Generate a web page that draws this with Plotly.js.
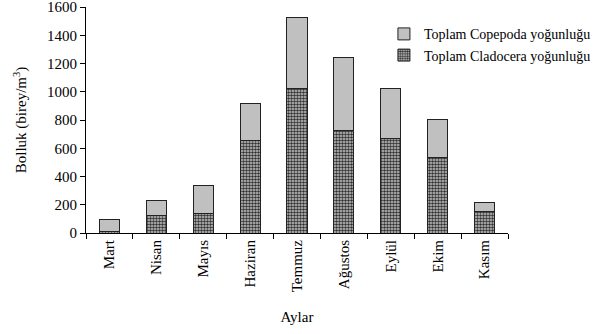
<!DOCTYPE html>
<html><head><meta charset="utf-8">
<script src="https://cdn.plot.ly/plotly-3.0.1.min.js"></script>
<style>body{margin:0;background:#fff}#c{width:595px;height:334px}</style>
</head><body><div id="c"></div>
<script>
var months = ["Mart","Nisan","Mayıs","Haziran","Temmuz","Ağustos","Eylül","Ekim","Kasım"];
var cladocera = [10,127,137,655,1023,729,671,533,153];
var copepoda = [85,103,198,263,500,514,350,273,63];
var yTicks = [0,200,400,600,800,1000,1200,1400,1600];

var traces = [
 {type:'bar', x:months, y:cladocera, name:'Toplam Cladocera yoğunluğu',
  marker:{color:'#bdbdbd', line:{color:'#222', width:1},
   pattern:{shape:'.', fgcolor:'#333', bgcolor:'#c8c8c8', size:3, solidity:0.55}},
  width:0.43},
 {type:'bar', x:months, y:copepoda, name:'Toplam Copepoda yoğunluğu',
  marker:{color:'#c0c0c0', line:{color:'#222', width:1}}, width:0.43}
];
var layout = {
 width:595, height:334, barmode:'stack', showlegend:true,
 margin:{l:86, r:87, t:7, b:100.5, autoexpand:false},
 paper_bgcolor:'#fff', plot_bgcolor:'#fff',
 font:{family:'Liberation Serif, Times New Roman, serif', size:15, color:'#000'},
 xaxis:{type:'category', showline:true, linecolor:'#000', linewidth:1,
   ticks:'outside', tickson:'boundaries', ticklen:5, tickcolor:'#000',
   tickangle:-90, tickfont:{size:15},
   title:{text:'Aylar', font:{size:15}, standoff:20}},
 yaxis:{range:[0,1600], tickvals:yTicks, showline:true, linecolor:'#000', linewidth:1,
   ticks:'outside', ticklen:5, tickcolor:'#000', showgrid:false, zeroline:false,
   tickfont:{size:15}, ticklabeloverflow:'allow',
   title:{text:'Bolluk (birey/m<sup>3</sup>)', font:{size:15}, standoff:16}},
 legend:{x:0.706, y:0.95, xanchor:'left', yanchor:'top', traceorder:'reversed',
   font:{size:14}, bgcolor:'rgba(0,0,0,0)', itemwidth:30, tracegroupgap:0}
};
Plotly.newPlot('c', traces, layout, {staticPlot:true});
</script></body></html>
